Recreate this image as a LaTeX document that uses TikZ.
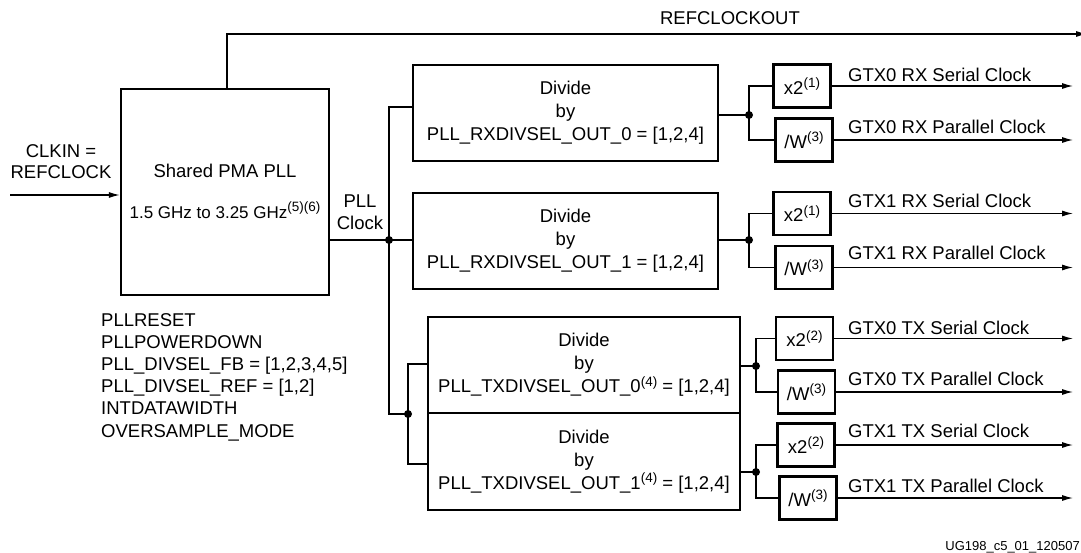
\documentclass[tikz,border=0pt]{standalone}
\usepackage{fontspec}
\setmainfont{Liberation Sans}
\usetikzlibrary{arrows.meta}
\newcommand{\spx}[1]{\raisebox{6.5pt}{\fontsize{13.5}{13.5}\selectfont #1}}
\begin{document}
\begin{tikzpicture}[x=1pt,y=-1pt,
  every node/.style={font=\fontsize{18.5}{23}\selectfont, inner sep=0pt},
  bigbox/.style={draw, line width=2.4pt, align=center},
  smallbox/.style={draw, line width=2.4pt, minimum width=57pt, minimum height=43pt},
  wire/.style={line width=1.2pt},
  arr/.style={wire, -{Latex[length=11pt,width=6pt]}},
  jdot/.style={circle, fill, inner sep=0pt, minimum size=8pt},
  lbl/.style={anchor=west}]
\useasboundingbox (0,0) rectangle (1081,552);

% main PLL
\node[bigbox, minimum width=208pt, minimum height=206pt] (pll) at (225,192) {};
\node (plltxt1) at (225,171) {Shared PMA PLL};
\node (plltxt2) at (225,210) {{\fontsize{17}{20}\selectfont 1.5 GHz to 3.25 GHz}\spx{(5)(6)}};

% input
\node[align=center, font=\fontsize{18.5}{21}\selectfont] (clkinlbl) at (61,162) {CLKIN =\\REFCLOCK};
\coordinate (clkin) at (10,195);
\draw[arr] (clkin) -- (clkin -| pll.west);

% refclockout
\coordinate (refx) at (227,34);
\coordinate (refend) at (1087,34);
\draw[arr] (pll.north -| refx) -- (refx) -- (refend);
\node (reflbl) at (730,18) {REFCLOCKOUT};

% parameters
\node[align=left, anchor=west, font=\fontsize{18.5}{22.2}\selectfont] (params) at (101,377)
 {PLLRESET\\PLLPOWERDOWN\\PLL\_DIVSEL\_FB = [1,2,3,4,5]\\PLL\_DIVSEL\_REF = [1,2]\\INTDATAWIDTH\\OVERSAMPLE\_MODE};

% divider boxes
\node[bigbox, minimum width=305pt, minimum height=96pt] (d1) at (565.5,113) {Divide\\by\\PLL\_RXDIVSEL\_OUT\_0 = [1,2,4]};
\node[bigbox, minimum width=305pt, minimum height=96pt] (d2) at (565.5,241) {Divide\\by\\PLL\_RXDIVSEL\_OUT\_1 = [1,2,4]};
\node[bigbox, minimum width=312pt, minimum height=96pt] (d3) at (584,365) {Divide\\by\\PLL\_TXDIVSEL\_OUT\_0\spx{(4)} = [1,2,4]};
\node[bigbox, minimum width=312pt, minimum height=97pt] (d4) at (584,461.5) {Divide\\by\\PLL\_TXDIVSEL\_OUT\_1\spx{(4)} = [1,2,4]};

% PLL clock distribution
\node[align=center, font=\fontsize{18.5}{22}\selectfont] (pllclk) at (360,212) {PLL\\Clock};
\coordinate (j0) at (389,240);
\coordinate (jt) at (389,107);
\coordinate (jb) at (389,414);
\coordinate (j1) at (408,414);
\coordinate (j1t) at (408,364);
\coordinate (j1b) at (408,464);
\draw[wire] (pll.east |- j0) -- (j0) -- (j0 -| d2.west);
\draw[wire] (jt -| d1.west) -- (jt) -- (jb) -- (j1);
\draw[wire] (j1t -| d3.west) -- (j1t) -- (j1b) -- (j1b -| d4.west);
\node[jdot] at (j0) {};
\node[jdot] at (j1) {};

% small boxes
\node[smallbox] (r0x) at (802,86) {x2\spx{(1)}};
\node[smallbox] (r0w) at (804,140) {/W\spx{(3)}};
\node[smallbox] (r1x) at (802,213.5) {x2\spx{(1)}};
\node[smallbox] (r1w) at (804,267.5) {/W\spx{(3)}};
\node[smallbox] (t0x) at (804.5,338.5) {x2\spx{(2)}};
\node[smallbox] (t0w) at (806.5,392) {/W\spx{(3)}};
\node[smallbox] (t1x) at (806,445) {x2\spx{(2)}};
\node[smallbox] (t1w) at (808,498) {/W\spx{(3)}};

% output junctions
\coordinate (o1) at (749,115);
\coordinate (o2) at (749,240);
\coordinate (o3) at (756,366);
\coordinate (o4) at (756,472);
\draw[wire] (d1.east |- o1) -- (o1);
\draw[wire] (r0x.west) -| (o1) |- (r0w.west);
\draw[wire] (d2.east |- o2) -- (o2);
\draw[wire] (r1x.west) -| (o2) |- (r1w.west);
\draw[wire] (d3.east |- o3) -- (o3);
\draw[wire] (t0x.west) -| (o3) |- (t0w.west);
\draw[wire] (d4.east |- o4) -- (o4);
\draw[wire] (t1x.west) -| (o4) |- (t1w.west);
\foreach \p in {o1,o2,o3,o4} \node[jdot] at (\p) {};

% output arrows
\coordinate (endx) at (1073,0);
\foreach \b in {r0x,r0w,r1x,r1w,t0x,t0w,t1x,t1w}
  \draw[arr] (\b.east) -- (\b.east -| endx);

% output labels
\node[lbl] (l1) at (848,75) {GTX0 RX Serial Clock};
\node[lbl] (l2) at (848,127) {GTX0 RX Parallel Clock};
\node[lbl] (l3) at (848,201) {GTX1 RX Serial Clock};
\node[lbl] (l4) at (848,253) {GTX1 RX Parallel Clock};
\node[lbl] (l5) at (848,328) {GTX0 TX Serial Clock};
\node[lbl] (l6) at (848,379) {GTX0 TX Parallel Clock};
\node[lbl] (l7) at (848,431) {GTX1 TX Serial Clock};
\node[lbl] (l8) at (848,486) {GTX1 TX Parallel Clock};

% footer
\node[anchor=base east, font=\fontsize{13}{13}\selectfont] (foot) at (1080,550.8) {UG198\_c5\_01\_120507};
\end{tikzpicture}
\end{document}
